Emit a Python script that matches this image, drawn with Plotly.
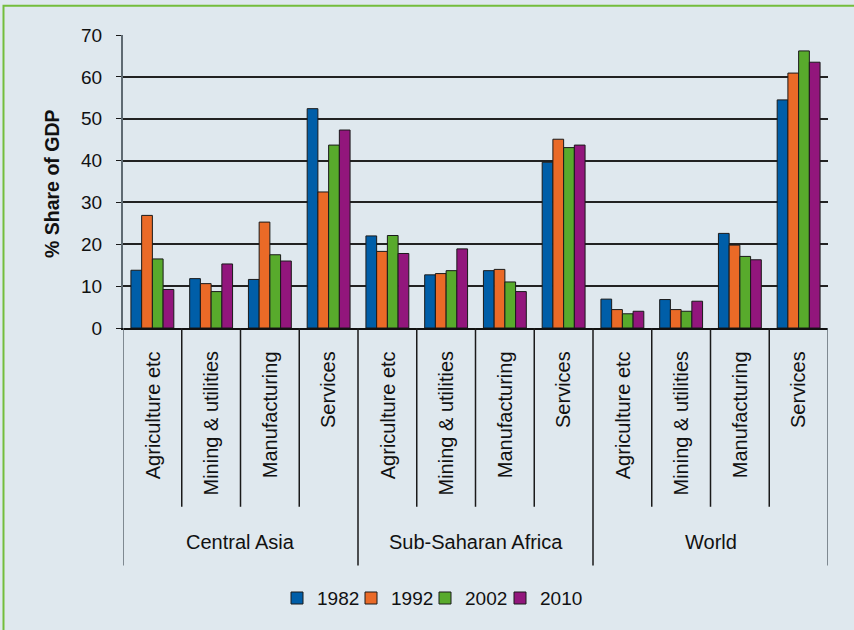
import plotly.graph_objects as go

groups = ["Central Asia", "Sub-Saharan Africa", "World"]
sectors = ["Agriculture etc", "Mining & utilities", "Manufacturing", "Services"]
years = ["1982", "1992", "2002", "2010"]

v1982 = [13.8, 11.8, 11.6, 52.4, 22.0, 12.7, 13.7, 39.6, 6.9, 6.8, 22.6, 54.5]
v1992 = [26.9, 10.6, 25.3, 32.5, 18.3, 13.0, 14.0, 45.1, 4.4, 4.4, 19.8, 60.9]
v2002 = [16.5, 8.7, 17.5, 43.7, 22.1, 13.7, 11.0, 43.1, 3.4, 4.0, 17.1, 66.2]
v2010 = [9.2, 15.3, 16.0, 47.3, 17.8, 18.9, 8.7, 43.7, 4.0, 6.4, 16.3, 63.5]

colors = ["#005ea8", "#ea6a27", "#58aa2c", "#92167c"]
series = [v1982, v1992, v2002, v2010]

FONT = "'Liberation Sans', Arial, Helvetica, sans-serif"
TXT = "#111111"

cats = [(g, s) for g in groups for s in sectors]
xpos = list(range(len(cats)))

L, R, T, B = 123, 26, 35, 300
W, H = 854, 630
ph = H - T - B
pw = W - L - R

def py(pix):
    return (H - B - pix) / ph

def px(pix):
    return (pix - L) / pw

legend_ids = ["legend", "legend2", "legend3", "legend4"]
legend_left = [277, 351, 425, 500]

fig = go.Figure()
for name, vals, col, lid in zip(years, series, colors, legend_ids):
    fig.add_trace(go.Bar(
        x=xpos, y=vals, name=name, legend=lid,
        marker=dict(color=col, line=dict(color="#1a1a1a", width=1)),
    ))

shapes = []
n = len(cats)
for k in range(n + 1):
    xb = k - 0.5
    is_group = (k % len(sectors) == 0)
    ybot = py(569) if is_group else py(510)
    col = "#5f6a72" if k in (0, n) else "#1a1a1a"
    shapes.append(dict(type="line", xref="x", yref="paper", x0=xb, x1=xb,
                       y0=0, y1=ybot, line=dict(color=col, width=1.5)))
shapes.append(dict(type="rect", xref="paper", yref="paper",
                   x0=px(3.5), x1=px(900), y0=py(5.5), y1=py(700),
                   line=dict(color="#74bd3c", width=2), layer="below"))

annotations = []
for i, (g, s) in enumerate(cats):
    annotations.append(dict(x=i, y=py(351), xref="x", yref="paper", text=s,
                            textangle=-90, showarrow=False, xanchor="center",
                            yanchor="top", font=dict(family=FONT, size=20, color=TXT)))
for j, g in enumerate(groups):
    annotations.append(dict(x=j * len(sectors) + 1.5, y=py(545), xref="x", yref="paper",
                            text=g, showarrow=False, xanchor="center", yanchor="middle",
                            font=dict(family=FONT, size=20, color=TXT)))
annotations.append(dict(x=px(52), y=py(185), xref="paper", yref="paper",
                        text="<b>% Share of GDP</b>", textangle=-90, showarrow=False,
                        xanchor="center", yanchor="middle",
                        font=dict(family=FONT, size=19.5, color=TXT)))

legend_layout = {}
for lid, lx in zip(legend_ids, legend_left):
    legend_layout[lid] = dict(orientation="h", x=px(lx), xanchor="left", y=py(602),
                              yanchor="middle", font=dict(family=FONT, size=19, color=TXT),
                              bgcolor="rgba(0,0,0,0)", itemwidth=30)

fig.update_layout(
    width=W, height=H,
    margin=dict(l=L, r=R, t=T, b=B, pad=0),
    paper_bgcolor="#dfe8ee", plot_bgcolor="#dfe8ee",
    barmode="group", bargap=0.27, bargroupgap=0,
    font=dict(family=FONT, size=19, color=TXT),
    showlegend=True,
    xaxis=dict(range=[-0.5, n - 0.5], showticklabels=False, showgrid=False, zeroline=False,
               showline=True, linecolor="#111111", linewidth=1.5, ticks=""),
    yaxis=dict(range=[0, 70], dtick=10, showgrid=True, gridcolor="#222222", gridwidth=1.5,
               zeroline=False, showline=True, linecolor="#5f6a72", linewidth=2,
               ticks="outside", ticklen=5, tickcolor="#1a1a1a", ticklabelstandoff=10,
               tickfont=dict(family=FONT, size=19, color=TXT)),
    shapes=shapes,
    annotations=annotations,
    **legend_layout,
)

fig.write_html("out.html")
